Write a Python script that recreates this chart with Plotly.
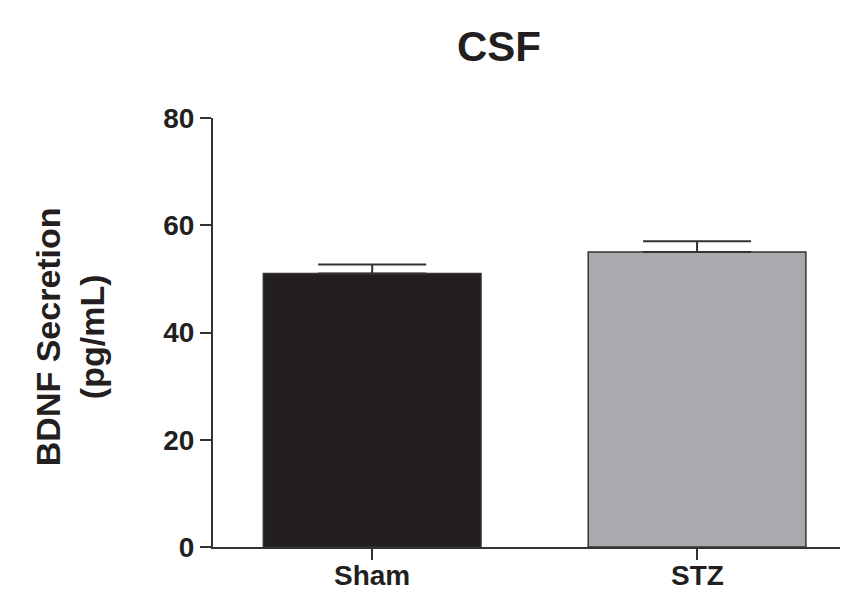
import plotly.graph_objects as go

categories = ["Sham", "STZ"]
means = [51.0, 55.0]
sem = [1.7, 2.0]
bar_colors = ["#231f20", "#a9aaae"]
y_ticks = [0, 20, 40, 60, 80]

FONT = "Liberation Sans, Arial, Helvetica, sans-serif"
AX = "#333333"
TXT = "#231f20"

fig = go.Figure()
fig.add_trace(go.Bar(
    x=categories, y=means, width=0.67,
    marker=dict(color=bar_colors, line=dict(color=AX, width=1.5)),
    error_y=dict(type="data", symmetric=False, array=sem, arrayminus=[0, 0],
                 color=AX, thickness=2, width=54),
    showlegend=False,
))

fig.update_layout(
    width=841, height=589,
    margin=dict(l=213, r=1, t=118, b=42, autoexpand=False),
    paper_bgcolor="white", plot_bgcolor="white",
    font=dict(family=FONT, color=TXT),
    title=dict(text="<b>CSF</b>", x=499/841, xanchor="center", xref="container",
               y=1-46/589, yanchor="middle", yref="container",
               font=dict(size=42, family=FONT, color=TXT)),
)
fig.update_xaxes(
    range=[-0.49, 1.44], showline=True, linecolor=AX, linewidth=2,
    ticks="outside", ticklen=11, tickwidth=2, tickcolor=AX,
    showticklabels=False,
    showgrid=False, zeroline=False, automargin=False,
)
# category labels placed just under the ticks so they stay inside the page
for cat in categories:
    fig.add_annotation(
        text=f"<b>{cat}</b>", x=cat, xref="x", y=0, yref="paper",
        xanchor="center", yanchor="top", yshift=-11, showarrow=False,
        font=dict(size=28, family=FONT, color=TXT),
    )
fig.update_yaxes(
    range=[0, 80], tickvals=y_ticks, showline=True, linecolor=AX, linewidth=2,
    ticks="outside", ticklen=11, tickwidth=2, tickcolor=AX,
    tickfont=dict(size=28, family=FONT, color=TXT, weight="bold"),
    showgrid=False, zeroline=False, automargin=False,
)
fig.add_annotation(
    text="<b>BDNF Secretion</b><br><b>(pg/mL)</b>", textangle=-90,
    xref="paper", yref="paper", x=(70-213)/627, y=0.489,
    xanchor="center", yanchor="middle", showarrow=False,
    font=dict(size=34, family=FONT, color=TXT),
)

fig.write_html(
    "out.html",
    config={"displayModeBar": False},
    post_script="document.body.style.margin='0';document.body.style.overflow='hidden';",
)
